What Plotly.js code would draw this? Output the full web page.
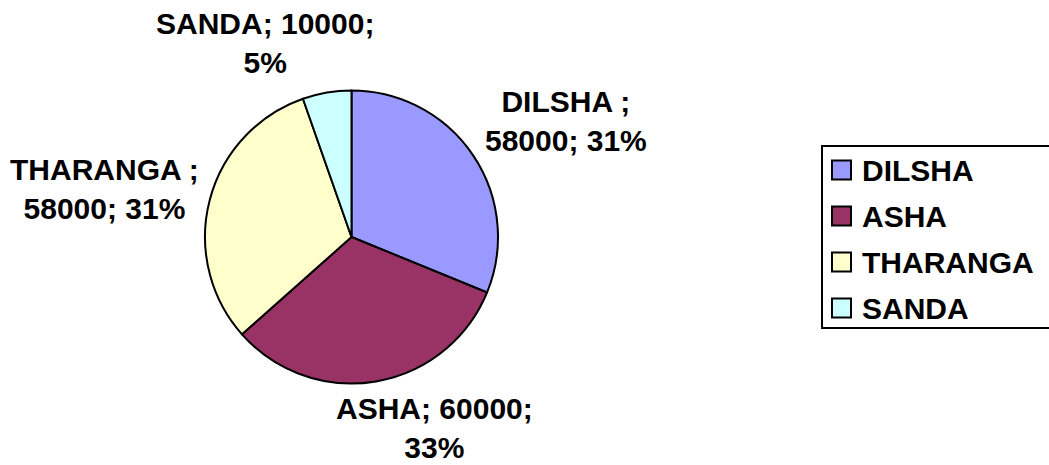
<!DOCTYPE html>
<html>
<head>
<meta charset="utf-8">
<script src="https://cdn.plot.ly/plotly-3.0.1.min.js"></script>
<style>html,body{margin:0;padding:0;background:#fff;}#chart{width:1049px;height:465px;}</style>
</head>
<body>
<div id="chart"></div>
<script>
// Data
var names = ['DILSHA', 'ASHA', 'THARANGA', 'SANDA'];
var values = [58000, 60000, 58000, 10000];
var pctLabels = ['31%', '33%', '31%', '5%'];
var colors = ['#9999FF', '#993366', '#FFFFCC', '#CCFFFF'];

// Label text as shown in the chart (line breaks per label)
var labelTexts = [
  names[0] + ' ;<br>' + values[0] + '; ' + pctLabels[0],
  names[1] + '; ' + values[1] + ';<br>' + pctLabels[1],
  names[2] + ' ;<br>' + values[2] + '; ' + pctLabels[2],
  names[3] + '; ' + values[3] + ';<br>' + pctLabels[3]
];
// Label centers in pixels (layout, not data)
var labelPos = [[566, 121], [434, 428], [104, 189], [265, 43]];

var W = 1049, H = 465;
var FONT = 'Liberation Sans, Arial, sans-serif';
var FS = 30;

function px(x) { return x / W; }
function py(y) { return 1 - y / H; }

var annotations = labelTexts.map(function (t, i) {
  return {
    text: t,
    xref: 'paper', yref: 'paper',
    x: px(labelPos[i][0]), y: py(labelPos[i][1]),
    xanchor: 'center', yanchor: 'middle',
    showarrow: false, align: 'center', borderpad: 0,
    font: {family: FONT, size: FS, color: '#000', weight: 'bold'}
  };
});

// Custom legend (box, swatches, names)
var legLeft = 822, legTop = 146, legBottom = 328, legRight = 1052;
var rowY0 = 170, rowStep = 46, swL = 832, swSize = 19, textX = 861;
var shapes = [{
  type: 'rect', xref: 'paper', yref: 'paper',
  x0: px(legLeft), x1: px(legRight), y0: py(legBottom), y1: py(legTop),
  line: {color: '#000', width: 2}, fillcolor: '#fff', layer: 'below'
}];
names.forEach(function (n, i) {
  var cy = rowY0 + i * rowStep;
  shapes.push({
    type: 'rect', xref: 'paper', yref: 'paper',
    x0: px(swL), x1: px(swL + swSize),
    y0: py(cy + swSize / 2), y1: py(cy - swSize / 2),
    line: {color: '#000', width: 2}, fillcolor: colors[i]
  });
  annotations.push({
    text: n, xref: 'paper', yref: 'paper',
    x: px(textX), y: py(cy), xanchor: 'left', yanchor: 'middle',
    showarrow: false, borderpad: 0,
    font: {family: FONT, size: FS, color: '#000', weight: 'bold'}
  });
});

var trace = {
  type: 'pie',
  labels: names,
  values: values,
  sort: false,
  direction: 'clockwise',
  rotation: 0,
  textinfo: 'none',
  hoverinfo: 'label+value+percent',
  marker: {colors: colors, line: {color: '#000', width: 2}},
  domain: {x: [205 / W, 498 / W], y: [1 - 383.5 / H, 1 - 90.5 / H]}
};

var layout = {
  width: W, height: H,
  margin: {l: 0, r: 0, t: 0, b: 0},
  paper_bgcolor: '#fff',
  plot_bgcolor: '#fff',
  showlegend: false,
  shapes: shapes,
  annotations: annotations
};

Plotly.newPlot('chart', [trace], layout, {displayModeBar: false, staticPlot: true});
</script>
</body>
</html>
